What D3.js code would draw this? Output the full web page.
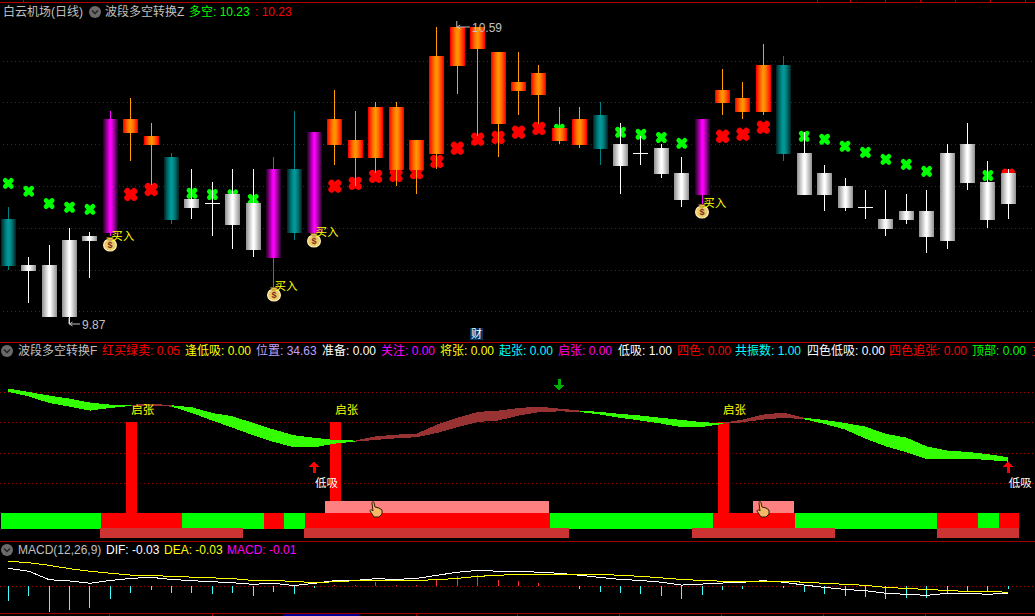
<!DOCTYPE html>
<html><head><meta charset="utf-8">
<style>html,body{margin:0;padding:0;background:#000;overflow:hidden}svg{display:block}
text{font-family:"Liberation Sans","Noto Sans CJK SC",sans-serif;font-size:12px;dominant-baseline:central}</style>
<script src="https://cdn.jsdelivr.net/npm/d3@7"></script></head><body>
<script>
const candleHigh=[10.154,10.032,10.061,10.103,10.093,10.386,10.418,10.357,10.285,10.246,10.214,10.246,10.246,10.275,10.386,10.335,10.437,10.386,10.408,10.408,10.316,10.590,10.590,10.590,10.529,10.529,10.498,10.396,10.396,10.408,10.357,10.326,10.306,10.275,10.367,10.488,10.457,10.549,10.520,10.335,10.255,10.224,10.195,10.195,10.185,10.195,10.306,10.357,10.265,10.246];
const candleTop=[10.125,10.013,10.013,10.074,10.083,10.367,10.367,10.326,10.275,10.173,10.163,10.185,10.163,10.246,10.246,10.335,10.367,10.316,10.396,10.396,10.316,10.520,10.590,10.590,10.529,10.457,10.478,10.345,10.367,10.377,10.306,10.285,10.297,10.236,10.367,10.437,10.418,10.498,10.498,10.285,10.236,10.205,10.154,10.125,10.144,10.144,10.285,10.306,10.214,10.236];
const candleBottom=[10.011,9.998,9.888,9.888,10.071,10.091,10.333,10.304,10.122,10.151,10.161,10.110,10.049,10.030,10.091,10.091,10.304,10.272,10.272,10.243,10.243,10.282,10.495,10.537,10.355,10.435,10.425,10.314,10.304,10.294,10.253,10.282,10.234,10.171,10.183,10.406,10.384,10.384,10.282,10.183,10.183,10.151,10.151,10.100,10.122,10.081,10.071,10.212,10.122,10.161];
const candleLow=[10.001,9.921,9.888,9.870,9.982,10.083,10.265,10.207,10.112,10.125,10.083,10.052,10.032,9.952,10.074,10.074,10.255,10.205,10.235,10.205,10.185,10.246,10.428,10.326,10.275,10.377,10.355,10.306,10.297,10.255,10.185,10.255,10.224,10.154,10.162,10.377,10.367,10.377,10.265,10.183,10.144,10.144,10.125,10.083,10.112,10.042,10.052,10.195,10.103,10.125];
const kinds=["t","w","w","w","w","m","o","o","t","w","w","w","w","m","t","m","o","o","o","o","o","o","o","o","o","o","o","o","o","t","w","w","w","w","m","o","o","o","t","w","w","w","w","w","w","w","w","w","w","w"];
const greenDots=[[0,10.211],[1,10.192],[2,10.162],[3,10.153],[4,10.148],[9,10.187],[10,10.184],[11,10.183],[12,10.172],[27,10.342],[30,10.335],[31,10.330],[32,10.322],[33,10.308],[39,10.325],[40,10.318],[41,10.301],[42,10.286],[43,10.269],[44,10.257],[45,10.240],[48,10.230]];
const redDots=[[6,10.184],[7,10.196],[16,10.204],[17,10.211],[18,10.228],[19,10.230],[20,10.237],[21,10.264],[22,10.296],[23,10.318],[24,10.322],[25,10.335],[26,10.344],[35,10.325],[36,10.330],[37,10.347],[49,10.231]];
const buySignals=[[5,10.083],[13,9.962],[15,10.093],[34,10.163]];
const gridPrices=[9.901,10.001,10.103,10.205,10.307,10.408,10.507];
const ribbonUpper=[82.3,80.1,77.7,75.7,73.1,71.7,71.5,72.4,71.3,70.0,66.2,64.0,59.6,55.3,51.5,49.8,48.4,48.0,50.8,51.9,52.6,58.5,63.0,66.9,67.8,69.5,70.4,69.1,67.8,66.9,65.6,64.5,63.0,61.6,60.1,59.6,61.9,65.2,66.5,63.0,61.6,59.6,57.2,52.4,50.0,44.2,41.4,40.5,39.0,37.0];
const ribbonLower=[80.1,77.2,72.8,70.4,67.8,69.5,70.9,71.1,70.4,66.2,61.2,56.4,51.5,47.1,43.6,43.6,46.0,47.3,48.4,49.5,50.2,53.0,56.8,60.3,61.2,64.5,66.7,67.3,66.9,65.2,63.0,61.2,59.2,56.8,57.0,59.0,60.1,61.9,63.0,62.1,59.0,55.3,49.3,44.2,40.3,35.7,35.7,36.1,35.2,34.1];
const ribbonSpans=[[0,6,"#33ff00"],[6,8,"#993333"],[8,17,"#33ff00"],[17,28,"#993333"],[28,35,"#33ff00"],[35,39,"#993333"],[39,49,"#33ff00"]];
const blockKinds="gggggrrrrggggrgrrrrrrrrrrrrggggggggrrrrgggggggrrgr".split("");
const pinkSpans=[[16,26],[37,38]];
const brownSpans=[[5,11],[15,27],[34,40],[46,49]];
const columns=[6,16,35];
const lowBuy=[15,49];
const macdBars=[-.056,-.039,-.099,-.091,-.083,-.049,-.025,-.014,-.025,-.025,-.029,-.025,-.036,-.021,-.029,-.005,.005,.004,.017,.005,.005,.025,.040,.044,.025,.021,.013,0,-.010,-.021,-.025,-.029,-.036,-.048,-.033,-.013,-.009,0,-.005,-.021,-.029,-.036,-.040,-.048,-.044,-.044,-.026,-.020,-.020,-.009];
const dea=[.098,.092,.082,.069,.059,.051,.044,.042,.039,.036,.033,.030,.023,.022,.020,.014,.018,.022,.023,.023,.023,.026,.031,.039,.043,.047,.047,.047,.047,.047,.043,.039,.033,.027,.023,.020,.020,.020,.020,.016,.012,.008,.004,-.004,-.008,-.012,-.016,-.020,-.020,-.023];
const dif=[.070,.059,.026,.021,.012,.023,.031,.035,.027,.022,.018,.014,.008,.012,.003,.012,.022,.023,.030,.027,.031,.043,.055,.062,.059,.059,.055,.051,.043,.035,.027,.023,.016,.005,.009,.013,.016,.022,.016,.005,-.004,-.012,-.017,-.027,-.031,-.035,-.027,-.027,-.031,-.026];
const mainHeader=[[3,"白云机场(日线)","#c0c0c0"],[105,"波段多空转换Z","#c0c0c0"],[189,"多空: 10.23","#00ff00"],[255,": 10.23","#ff0000"]];
const indicatorHeader=[[18,"波段多空转换F","#c0c0c0"],[102,"红买绿卖: 0.05","#ff0000"],[185,"逢低吸: 0.00","#ffff00"],[256,"位置: 34.63","#c0a0ff"],[322,"准备: 0.00","#ffffff"],[381,"关注: 0.00","#ff00ff"],[440,"将张: 0.00","#ffff00"],[499,"起张: 0.00","#00ffff"],[558,"启张: 0.00","#ff00ff"],[618,"低吸: 1.00","#ffffff"],[677,"四色: 0.00","#ff0000"],[735,"共振数: 1.00","#00ffff"],[807,"四色低吸: 0.00","#ffffff"],[889,"四色追张: 0.00","#ff0000"],[972,"顶部: 0.00","#00ff00"],[1032,"主","#ff0000"]];
const macdHeader=[[18,"MACD(12,26,9)","#c0c0c0"],[106,"DIF: -0.03","#ffffff"],[164,"DEA: -0.03","#ffff00"],[227,"MACD: -0.01","#ff00ff"]];
const topTicks=[23,817,850,885,920,955,990,1025];
const bottomTicks=[109,212,416,517,619,721,823,925];

const W=1035,H=616;
const svg=d3.select("body").append("svg").attr("width",W).attr("height",H).style("background","#000");
const defs=svg.append("defs");
const x=d3.scaleLinear().domain([0,49]).range([8.3,1008.3]);
const y=d3.scaleLinear().domain([9.87,10.59]).range([324,27]);
const yInd=d3.scaleLinear().domain([0,100]).range([513.3,361.8]);
const yMacd=d3.scaleLinear().domain([-0.1,0.1]).range([612,560.7]);
const stripes={
 w:["#989898","#a8a8a8","#b8b8b8","#c8c8c8","#d8d8d8","#e8e8e8","#f8f8f8","#ffffff"],
 o:["#ff0000","#ff2000","#ff3800","#ff5000","#ff6800","#ff7c00","#ff8c00","#ff9800"],
 t:["#002c2c","#004040","#005454","#006868","#007878","#008888","#009494","#009898"],
 m:["#300030","#500050","#700070","#900090","#b000b0","#d000d0","#f000f0","#ff00ff"]};
const wickColor={w:"#ffffff",o:"#ffa000",t:"#008080",m:"#ff00ff"};
Object.entries(stripes).forEach(([k,c])=>{
 const full=c.concat(c.slice(0,7).reverse());
 const g=defs.append("linearGradient").attr("id","g"+k).attr("x1",0).attr("x2",1).attr("y1",0).attr("y2",0);
 full.forEach((col,i)=>{g.append("stop").attr("offset",i/15).attr("stop-color",col);g.append("stop").attr("offset",(i+1)/15).attr("stop-color",col);});
});
const frame=[[2,"#b00000"],[342,"#b00000"],[541,"#a00000"],[613,"#a00000"]];
svg.selectAll("line.frame").data(frame).join("line").attr("x1",0).attr("x2",W).attr("y1",d=>d[0]+.5).attr("y2",d=>d[0]+.5).attr("stroke",d=>d[1]);
svg.append("g").selectAll("line").data(topTicks).join("line").attr("x1",d=>d+.5).attr("x2",d=>d+.5).attr("y1",0).attr("y2",2).attr("stroke","#b00000");
svg.append("g").selectAll("line").data(bottomTicks).join("line").attr("x1",d=>d+.5).attr("x2",d=>d+.5).attr("y1",614).attr("y2",616).attr("stroke","#a00000");
svg.append("rect").attr("x",283).attr("y",614).attr("width",77).attr("height",2).attr("fill","#000090");

function dotted(yPos,x0){svg.append("line").attr("x1",x0).attr("x2",W).attr("y1",yPos+.5).attr("y2",yPos+.5).attr("stroke","#a00000").attr("stroke-dasharray","1 3");}
gridPrices.forEach(p=>dotted(Math.round(y(p)),3));
[20,40,60,80].forEach(v=>dotted(Math.round(yInd(v)),0));
dotted(Math.round(yMacd(0)),0);

function dots(data,col,a,w){svg.append("g").selectAll("path").data(data).join("path").attr("d",`M${-a},${-a}L${a},${a}M${-a},${a}L${a},${-a}`)
 .attr("transform",d=>`translate(${x(d[0])},${y(d[1])})`).attr("fill","none").attr("stroke",col).attr("stroke-width",w).attr("stroke-linecap","round");}
dots(greenDots,"#00ff00",3,4.8);dots(redDots,"#ff0000",3.3,6.4);

const idx=d3.range(candleHigh.length);
const gC=svg.append("g").attr("shape-rendering","crispEdges");
gC.selectAll("rect.w").data(idx).join("rect").attr("class","w").attr("x",i=>Math.floor(x(i))).attr("width",1).attr("y",i=>Math.round(y(candleHigh[i]))).attr("height",i=>Math.max(1,Math.round(y(candleLow[i]))-Math.round(y(candleHigh[i])))).attr("fill",i=>wickColor[kinds[i]]);
gC.selectAll("rect.b").data(idx).join("rect").attr("class","b").attr("x",i=>Math.floor(x(i))-7).attr("width",15).attr("y",i=>Math.round(y(candleTop[i]))).attr("height",i=>Math.max(1,Math.round(y(candleBottom[i]))-Math.round(y(candleTop[i])))).attr("fill",i=>(y(candleBottom[i])-y(candleTop[i])<2)?wickColor[kinds[i]]:`url(#g${kinds[i]})`);

buySignals.forEach(([i,p])=>{
 const cx=x(i), yText=y(p), yBag=yText+8;
 const g=svg.append("g").attr("transform",`translate(${Math.round(cx)},${Math.round(yBag)})`);
 g.append("ellipse").attr("cy",1).attr("rx",6.4).attr("ry",6).attr("fill","#f0c868").attr("stroke","#fff2b0").attr("stroke-width",1.2);
 g.append("path").attr("d","M-3.5,-6.5 L3.5,-6.5 L2,-4 L-2,-4 Z").attr("fill","#e8c040").attr("stroke","#806020").attr("stroke-width",.5);
 g.append("text").attr("y",1).attr("text-anchor","middle").attr("fill","#803010").style("font-size","9px").style("font-weight","bold").text("$");
 svg.append("text").attr("x",cx+1).attr("y",yText).attr("fill","#ffff00").style("font-size","11.5px").text("买入");
});

const gLab=svg.append("g");
function extreme(i,p,lx){
 const yy=y(p);
 gLab.append("path").attr("d",`M${x(i)-.5},${yy-6} L${x(i)-.5},${yy} L${lx-2},${yy} M${x(i)+3},${yy-2} L${x(i)},${yy} L${x(i)+3},${yy+2}`).attr("fill","none").attr("stroke","#c0c0c0");
 gLab.append("text").attr("x",lx).attr("y",yy+1).attr("fill","#c0c0c0").text(p.toFixed(2));
}
extreme(3,9.87,82);
extreme(22,10.59,472);

svg.append("rect").attr("x",470).attr("y",328).attr("width",13).attr("height",12).attr("fill","#003366");
svg.append("text").attr("x",476.5).attr("y",334).attr("text-anchor","middle").attr("fill","#fff").style("font-size","11px").text("财");

function icon(cx,cy){svg.append("circle").attr("cx",cx).attr("cy",cy).attr("r",6).attr("fill","#6a6a6a");
 svg.append("path").attr("d",`M${cx-3},${cy-1.5} L${cx},${cy+1.5} L${cx+3},${cy-1.5}`).attr("fill","none").attr("stroke","#222").attr("stroke-width",1.4);}
function header(rows,yy){svg.append("g").selectAll("text").data(rows).join("text").attr("x",d=>d[0]).attr("y",yy).attr("fill",d=>d[2]).text(d=>d[1]);}
icon(95,12);header(mainHeader,12);
icon(7,351);header(indicatorHeader,351);
icon(7,550);header(macdHeader,550);

const gI=svg.append("g").attr("shape-rendering","crispEdges");
const step=x(1)-x(0);
const blockColor={g:"#00ff00",r:"#ff0000"};
const blockL=i=>Math.max(1,Math.ceil(x(i)-step/2));
gI.selectAll("rect.c").data(columns).join("rect").attr("class","c").attr("x",i=>Math.round(x(i))-5).attr("width",11).attr("y",yInd(60)).attr("height",yInd(0)-yInd(60)).attr("fill","#ff0000");
gI.selectAll("rect.p").data(pinkSpans).join("rect").attr("class","p").attr("x",d=>Math.round(x(d[0])-step/2)).attr("width",d=>(d[1]-d[0]+1)*step).attr("y",yInd(8)).attr("height",yInd(0)-yInd(8)).attr("fill","#ff8080");
gI.selectAll("rect.m").data(idx).join("rect").attr("class","m").attr("x",blockL).attr("width",i=>Math.ceil(x(i)+step/2)-blockL(i)).attr("y",yInd(0)).attr("height",yInd(-10.4)-yInd(0)).attr("fill",i=>blockColor[blockKinds[i]]);
gI.selectAll("rect.br").data(brownSpans).join("rect").attr("class","br").attr("x",d=>Math.round(x(d[0])-step/2)).attr("width",d=>(d[1]-d[0]+1)*step).attr("y",yInd(-9.6)).attr("height",yInd(-16.2)-yInd(-9.6)).attr("fill","#cc3333");
const area=d3.area().x(i=>x(i)).y0(i=>yInd(ribbonLower[i])).y1(i=>yInd(ribbonUpper[i]));
ribbonSpans.forEach(s=>gI.append("path").attr("d",area(d3.range(s[0],s[1]+1))).attr("fill",s[2]));
columns.forEach(i=>svg.append("text").attr("x",x(i)+12).attr("y",yInd(60)-12.5).attr("text-anchor","middle").attr("fill","#ffff00").style("font-size","11.5px").text("启张"));
function arrow(cx,y0,dir,col){svg.append("path").attr("d",`M${cx},${y0} l5,${dir*6} l-3.5,0 l0,${dir*6} l-3,0 l0,${-dir*6} l-3.5,0 Z`).attr("fill",col).attr("shape-rendering","crispEdges");}
lowBuy.forEach(i=>{arrow(Math.round(x(i)),461,1,"#ff0000");
 svg.append("text").attr("x",x(i)+12).attr("y",483).attr("text-anchor","middle").attr("fill","#ffffff").style("font-size","11.5px").text("低吸");});
arrow(Math.round(x(27)),391,-1,"#00b000");
[18,37].forEach(i=>{
 const g=svg.append("g").attr("transform",`translate(${Math.round(x(i))},510)`);
 g.append("path").attr("d","M-4,-7 C-4,-9 -2,-9 -2,-7 L-1,-3 L3,-2 L6,0 L6,4 L3,7 L-2,7 L-6,1 C-6,0 -5,-1 -3,1 Z").attr("fill","#f4b868").attr("stroke","#301800").attr("stroke-width",1);
});

const gM=svg.append("g").attr("shape-rendering","crispEdges");
gM.selectAll("rect").data(idx.filter(i=>macdBars[i]!==0)).join("rect").attr("x",i=>Math.floor(x(i))).attr("width",1)
 .attr("y",i=>Math.min(yMacd(0),yMacd(macdBars[i]))).attr("height",i=>Math.abs(yMacd(macdBars[i])-yMacd(0))).attr("fill",i=>macdBars[i]<0?"#40ffff":"#ff3030");
const line=d3.line().x((d,i)=>x(i)).y(d=>yMacd(d));
gM.append("path").attr("d",line(dif)).attr("fill","none").attr("stroke","#ffffff");
gM.append("path").attr("d",line(dea)).attr("fill","none").attr("stroke","#ffff00");
</script></body></html>
